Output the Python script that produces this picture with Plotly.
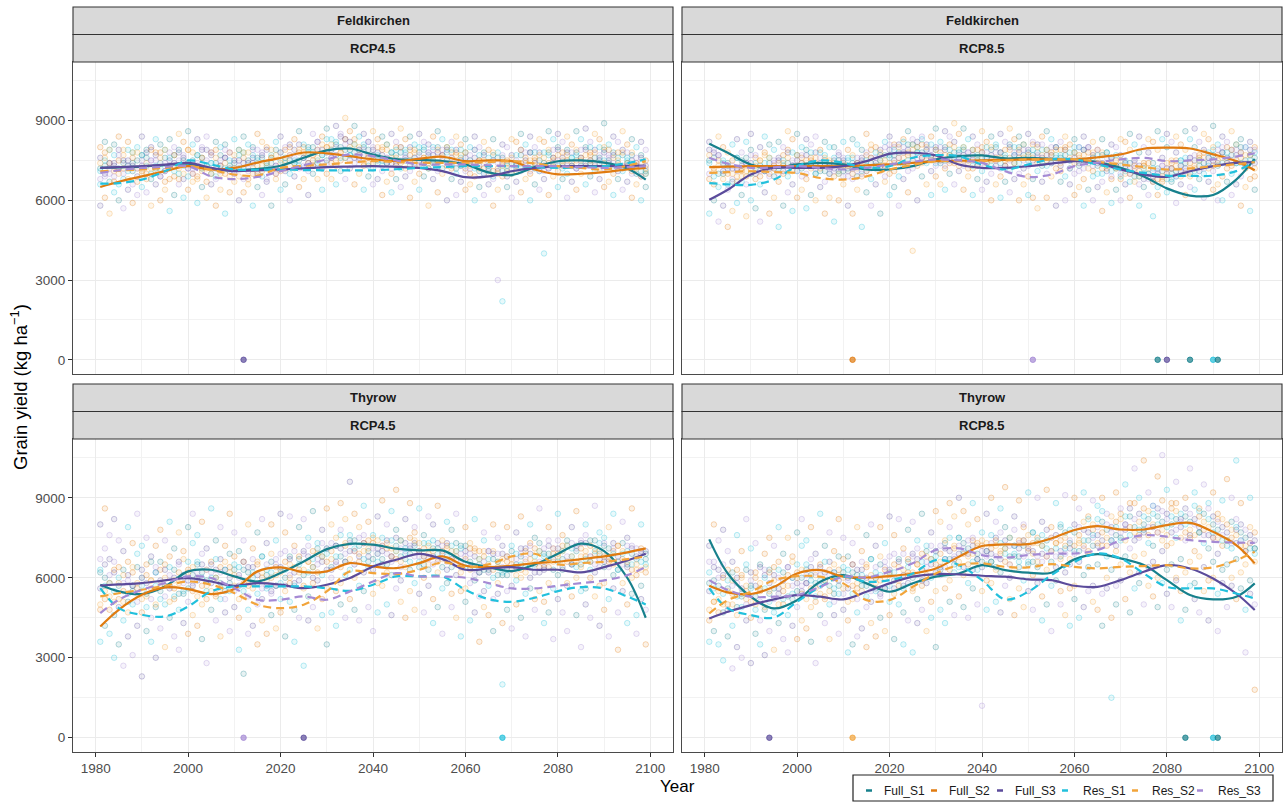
import plotly.graph_objects as go

W, H = 1284, 802

SCENARIOS = ["Full_S1", "Full_S2", "Full_S3", "Res_S1", "Res_S2", "Res_S3"]
COLORS = {"Full_S1": "#17808c", "Full_S2": "#e07b10", "Full_S3": "#5b4b9b",
          "Res_S1": "#22c0dc", "Res_S2": "#f2a43a", "Res_S3": "#a58ad4"}
DASHES = {"Full_S1": "solid", "Full_S2": "solid", "Full_S3": "solid",
          "Res_S1": "8px,5px", "Res_S2": "8px,5px", "Res_S3": "8px,5px"}

SITES = ["Feldkirchen", "Feldkirchen", "Thyrow", "Thyrow"]
RCPS = ["RCP4.5", "RCP8.5", "RCP4.5", "RCP8.5"]

X_TICKS = [1980, 2000, 2020, 2040, 2060, 2080, 2100]
Y_TICKS = [0, 3000, 6000, 9000]

# smoothed trend lines (kg/ha) at key years
KEY_YEARS = [1981, 1985, 1990, 1995, 2000, 2005, 2010, 2015, 2020, 2025, 2030, 2035,
             2040, 2045, 2050, 2055, 2060, 2065, 2070, 2075, 2080, 2085, 2090, 2095, 2099]

FK45_LINES = {
    "Full_S1": [7220, 7240, 7270, 7320, 7380, 7200, 7120, 7180, 7300, 7600, 7880, 7950, 7720, 7550, 7520, 7480, 7350, 7050, 6950, 7250, 7470, 7500, 7420, 7200, 6780],
    "Full_S2": [6500, 6700, 6900, 7100, 7285, 7160, 7220, 7420, 7600, 7800, 7770, 7660, 7540, 7475, 7560, 7640, 7475, 7500, 7475, 7160, 6980, 7000, 7060, 7160, 7220],
    "Full_S3": [7220, 7250, 7285, 7340, 7410, 7220, 7100, 7130, 7160, 7200, 7250, 7270, 7285, 7260, 7220, 7100, 6870, 6900, 7095, 7220, 7285, 7285, 7285, 7300, 7310],
    "Res_S1": [6630, 6650, 6780, 7095, 7500, 7350, 7160, 7150, 7160, 7140, 7130, 7130, 7130, 7170, 7220, 7250, 7285, 7285, 7285, 7250, 7220, 7250, 7285, 7400, 7540],
    "Res_S2": [7095, 7120, 7160, 7220, 7285, 7150, 6970, 6930, 7220, 7300, 7350, 7420, 7475, 7440, 7410, 7410, 7410, 7440, 7475, 7380, 7285, 7220, 7160, 7300, 7475],
    "Res_S3": [7030, 7130, 7220, 7260, 7285, 6900, 6800, 6880, 7095, 7320, 7540, 7730, 7660, 7500, 7350, 7350, 7350, 7320, 7285, 7285, 7285, 7250, 7220, 7250, 7285],
}
FK85_LINES = {
    "Full_S1": [8130, 7790, 7350, 7220, 7350, 7410, 7350, 7160, 7160, 7285, 7540, 7660, 7690, 7575, 7600, 7560, 7510, 7440, 7220, 6900, 6450, 6180, 6200, 6780, 7560],
    "Full_S2": [7250, 7270, 7285, 7285, 7285, 7285, 7285, 7320, 7350, 7410, 7475, 7490, 7500, 7520, 7540, 7540, 7540, 7620, 7730, 7940, 7980, 7950, 7730, 7475, 7130],
    "Full_S3": [6020, 6400, 6970, 7220, 7220, 7220, 7285, 7475, 7750, 7790, 7690, 7350, 7220, 7220, 7285, 7380, 7475, 7410, 7160, 6970, 6880, 7095, 7285, 7410, 7440],
    "Res_S1": [6650, 6600, 6580, 6780, 7285, 7500, 7410, 7220, 7285, 7600, 7700, 7660, 7350, 7160, 7350, 7540, 7540, 7350, 7160, 7030, 6930, 6920, 6930, 7100, 7475],
    "Res_S2": [7030, 7060, 7095, 7060, 7030, 6840, 6780, 6900, 7160, 7330, 7475, 7475, 7475, 7500, 7540, 7540, 7540, 7450, 7350, 7250, 7160, 7200, 7285, 7360, 7440],
    "Res_S3": [7600, 7380, 7220, 7240, 7285, 7220, 7160, 7220, 7350, 7450, 7540, 7500, 7410, 7095, 6880, 6970, 7285, 7420, 7540, 7600, 7475, 7500, 7540, 7650, 7770],
}
TH45_LINES = {
    "Full_S1": [5740, 5490, 5390, 5675, 6240, 6300, 6050, 5860, 6175, 6610, 7075, 7275, 7240, 7090, 7025, 7025, 6600, 6400, 6250, 6500, 6900, 7280, 7000, 6000, 4500],
    "Full_S2": [4175, 4800, 5360, 5640, 5575, 5390, 5575, 6240, 6390, 6210, 6240, 6550, 6425, 6360, 6550, 6800, 6450, 6400, 6450, 6550, 6600, 6700, 6800, 6950, 7100],
    "Full_S3": [5710, 5750, 5800, 5900, 5990, 5860, 5700, 5800, 5740, 5610, 5740, 5990, 6425, 6675, 6900, 6700, 6300, 6350, 6400, 6300, 6300, 6200, 6400, 6650, 6900],
    "Res_S1": [5610, 4860, 4610, 4550, 4925, 5490, 5675, 5675, 5675, 5675, 5610, 5510, 5740, 6050, 6050, 6050, 5550, 5200, 5100, 5250, 5500, 5650, 5600, 5300, 5000],
    "Res_S2": [5300, 5420, 5550, 5700, 5860, 5740, 5425, 4990, 4860, 4990, 5490, 6240, 6175, 6140, 6300, 6575, 6400, 6500, 6800, 6900, 6500, 6550, 6600, 6700, 6800],
    "Res_S3": [4675, 5175, 5550, 5800, 6050, 5990, 5610, 5175, 5175, 5300, 5175, 5490, 5860, 6175, 6050, 6050, 6000, 5800, 5600, 5600, 5700, 5800, 5900, 6100, 6400],
}
TH85_LINES = {
    "Full_S1": [7440, 6160, 5290, 4850, 5160, 5850, 6100, 5790, 5475, 5790, 6040, 6160, 6475, 6290, 6190, 6190, 6690, 6890, 6725, 6475, 5910, 5350, 5190, 5290, 5790],
    "Full_S2": [5700, 5450, 5390, 5660, 6160, 6290, 6040, 6010, 6060, 6160, 6350, 6790, 7190, 7250, 7260, 7475, 7790, 7940, 7810, 7810, 7975, 8060, 7725, 7225, 6540],
    "Full_S3": [4475, 4725, 4975, 5190, 5350, 5290, 5190, 5475, 5790, 6040, 6140, 6125, 6075, 6040, 5940, 5910, 5700, 5660, 5910, 6225, 6475, 6350, 5975, 5410, 4790],
    "Res_S1": [5600, 4850, 4600, 4510, 5100, 5660, 6040, 5850, 5910, 6160, 6660, 6475, 5910, 5190, 5475, 6100, 6600, 6910, 6725, 6160, 5660, 5600, 5600, 5410, 5225],
    "Res_S2": [4660, 5160, 5475, 5910, 6060, 6040, 5790, 5160, 5160, 5660, 6160, 6475, 6540, 6410, 6390, 6510, 6410, 6350, 6410, 6440, 6475, 6350, 6390, 6660, 6975],
    "Res_S3": [5910, 5540, 5290, 5290, 5350, 5660, 6040, 6010, 6225, 6540, 7040, 7100, 6850, 6760, 6850, 6910, 6910, 7040, 7410, 7600, 7540, 7410, 7350, 7320, 7310],
}

# yearly simulated yields, in hundreds of kg/ha (several runs per year), 1981..2099
CLOUD_YEARS = list(range(1981, 2100))
FK45_CLOUD = [
    "72 80 58 66", "76 69 82 61", "74 79 55 70", "81 67 73 63", "70 77 60 84", "75 68 79 57", "73 82 64 71", "78 66 74 59", "69 80 72 62", "77 71 84 65",
    "74 63 79 68", "80 70 58 75", "72 78 66 83", "76 69 81 60", "71 79 64 74", "83 68 75 56", "73 80 62 77", "78 70 85 66", "75 82 68 61", "79 72 86 64",
    "74 81 67 70", "77 69 83 59", "72 80 65 76", "79 73 61 84", "70 78 66 74", "76 68 82 58", "73 80 64 71", "81 70 76 55", "69 78 72 63", "75 83 67 70",
    "72 79 60 77", "78 68 84 63", "74 81 66 72", "80 70 76 58", "71 79 65 85", "77 69 82 62", "74 80 67 73", "79 72 58 76", "73 82 68 70", "78 71 84 64",
    "75 80 66 72", "81 70 77 60", "74 83 69 75", "79 72 86 65", "76 81 68 73", "80 74 62 78", "73 85 70 77", "82 75 68 79", "77 84 72 64", "80 74 87 70",
    "76 83 68 78", "81 73 88 66", "78 85 71 75", "83 76 91 68", "79 86 72 77", "81 74 88 66", "76 84 70 79", "80 73 85 64", "77 82 69 74", "79 72 86 66",
    "75 83 68 77", "80 71 84 62", "74 81 67 76", "78 70 85 63", "76 82 68 74", "80 72 87 65", "75 83 69 78", "79 71 84 61", "73 81 67 76", "78 70 85 64",
    "76 82 69 74", "81 72 58 78", "74 84 68 75", "79 71 86 63", "77 83 70 75", "80 73 60 78", "75 82 68 72", "79 70 84 62", "73 81 67 76", "78 71 83 64",
    "74 80 66 72", "79 69 84 60", "72 80 65 75", "77 70 82 62", "73 79 66 71", "78 68 83 58", "71 78 64 30", "76 69 81 22", "72 80 65 74", "77 70 83 61",
    "74 82 67 72", "79 71 85 63", "75 81 68 73", "78 70 84 60", "73 80 66 75", "78 71 83 64", "74 82 68 40", "79 72 86 62", "76 83 69 74", "80 71 85 65",
    "75 82 68 73", "78 70 84 61", "73 81 67 76", "79 72 86 64", "76 83 70 74", "80 73 87 66", "75 82 69 77", "79 71 85 63", "76 83 68 74", "80 72 89 65",
    "74 81 67 76", "78 70 84 62", "75 82 68 73", "79 71 86 64", "74 81 67 75", "78 70 83 61", "73 80 66 74", "77 69 82 60", "72 79 65 70",
]
FK45_CLOUD_B = [
    "76 71 74 68", "73 78 70 75", "79 72 67 74", "74 77 71 69", "72 75 79 66", "77 70 74 72", "75 79 68 73", "71 76 73 78", "78 72 75 67", "73 77 70 75",
    "76 70 78 73", "72 75 68 79", "77 73 71 75", "74 78 69 72", "79 71 76 67", "73 76 72 78", "77 69 74 71", "72 75 79 68", "76 73 70 77", "74 79 72 69",
    "78 72 75 70", "73 77 68 74", "76 71 79 72", "72 75 73 67", "77 74 70 78", "74 79 72 69", "70 75 77 73", "76 72 74 79", "73 78 71 75", "77 70 74 72",
    "75 79 69 73", "72 76 74 78", "78 71 75 68", "74 77 72 79", "76 73 70 75", "73 78 76 71", "79 72 74 68", "74 76 71 77", "77 73 79 70", "72 75 74 78",
    "76 79 71 74", "73 77 75 80", "79 74 72 76", "75 78 81 73", "78 72 76 80", "74 79 77 71", "80 75 73 78", "76 82 74 79", "79 77 81 73", "75 80 78 83",
    "81 76 79 74", "77 82 75 80", "80 78 84 76", "76 81 79 83", "82 77 80 75", "78 83 76 81", "80 75 79 77", "77 81 74 79", "79 76 82 73", "76 80 77 74",
    "78 74 80 76", "75 79 77 73", "79 76 74 81", "74 78 76 72", "77 80 73 79", "80 75 78 74", "76 79 72 77", "73 77 80 75", "78 74 76 79", "75 80 73 77",
    "79 76 74 80", "74 78 77 72", "77 80 75 79", "80 74 78 73", "76 79 72 77", "79 75 80 74", "73 78 76 79", "77 74 72 78", "75 79 77 73", "78 72 76 74",
    "73 77 75 70", "76 72 74 79", "71 75 73 77", "75 70 78 72", "72 76 70 74", "77 71 75 69", "70 74 76 72", "74 71 73 77", "71 75 69 73", "76 72 74 70",
    "73 77 71 75", "77 74 79 72", "74 78 72 76", "78 73 75 71", "72 76 74 78", "77 71 75 73", "73 78 76 71", "78 74 72 77", "75 79 73 76", "79 73 77 75",
    "74 78 76 72", "77 73 79 75", "73 76 74 78", "78 75 72 77", "75 79 73 76", "79 74 77 73", "74 78 75 80", "78 73 76 74", "75 80 72 77", "79 74 78 75",
    "73 77 75 79", "77 72 76 74", "74 78 71 76", "78 73 77 72", "73 76 74 78", "77 71 75 73", "72 76 70 74", "76 71 74 69", "71 75 73 70",
]
FK85_CLOUD = [
    "75 68 82 55", "71 79 60 66", "77 65 84 52", "70 80 58 74", "78 64 73 50", "72 81 56 68", "76 67 83 59", "69 78 62 72", "74 82 54 66", "79 70 85 60",
    "73 77 57 68", "80 66 75 52", "71 78 63 84", "76 69 81 55", "72 79 61 74", "82 67 75 50", "74 80 58 70", "78 69 86 63", "73 83 66 56", "77 71 85 61",
    "74 80 64 69", "79 68 83 57", "72 81 62 75", "78 70 60 84", "71 79 65 73", "76 67 82 55", "73 80 61 70", "80 69 75 52", "70 78 71 60", "75 82 66 69",
    "72 79 58 76", "77 68 83 55", "74 81 64 71", "79 69 76 50", "71 78 63 85", "76 68 81 58", "73 80 66 72", "78 71 55 75", "72 82 67 69", "77 70 84 62",
    "74 80 65 71", "81 69 76 58", "73 83 68 74", "78 71 86 63", "75 81 41 72", "80 73 60 78", "74 84 69 76", "81 74 66 79", "76 84 71 62", "79 73 87 69",
    "75 82 66 77", "80 72 86 64", "77 84 70 74", "82 75 89 66", "78 85 71 76", "80 73 87 64", "75 83 69 78", "79 72 84 62", "76 81 68 73", "78 71 86 64",
    "74 82 67 76", "80 70 84 60", "73 81 66 75", "78 69 85 61", "75 82 67 73", "80 71 87 63", "74 83 68 77", "79 70 84 60", "72 81 66 75", "78 69 85 62",
    "76 82 68 61", "81 71 57 77", "73 84 67 74", "79 70 86 61", "77 83 69 74", "80 72 58 77", "74 82 67 71", "79 69 84 60", "72 81 66 75", "78 70 83 62",
    "74 80 65 71", "79 68 84 58", "72 80 64 75", "77 69 82 60", "73 79 65 70", "78 67 83 56", "71 78 63 74", "76 68 81 59", "72 80 64 73", "77 69 83 60",
    "74 82 66 71", "79 70 85 61", "75 81 67 72", "78 69 84 58", "73 80 65 74", "78 70 83 62", "74 82 67 54", "79 71 86 62", "76 83 68 73", "80 70 85 63",
    "75 82 67 72", "78 69 84 59", "73 81 66 75", "79 71 86 62", "76 83 69 65", "80 72 87 64", "75 82 68 76", "79 70 85 61", "76 83 67 73", "80 71 88 64",
    "74 81 66 60", "78 69 84 60", "75 82 67 72", "79 70 86 62", "74 81 66 74", "78 69 83 58", "73 80 65 73", "77 68 82 56", "72 79 64 69",
]
FK85_CLOUD_B = [
    "79 74 77 70", "76 72 78 69", "73 77 70 75", "71 75 68 73", "74 70 72 66", "70 73 67 75", "72 76 69 71", "75 71 73 67", "71 74 76 69", "74 70 72 77",
    "72 76 70 74", "75 71 73 69", "71 74 77 72", "74 70 72 76", "72 75 69 73", "76 72 74 70", "73 77 71 75", "76 72 74 79", "73 78 71 75", "77 73 75 71",
    "74 77 72 76", "77 73 75 70", "73 76 74 78", "76 72 70 74", "74 78 72 76", "71 75 73 77", "75 72 70 74", "72 76 74 71", "75 73 77 70", "73 76 71 74",
    "71 75 73 69", "74 70 72 76", "72 76 69 74", "75 71 73 70", "73 77 71 75", "76 72 74 79", "74 78 72 76", "77 73 79 75", "75 80 77 73", "79 76 74 81",
    "77 81 75 79", "80 76 78 74", "78 82 76 80", "81 77 79 75", "79 83 77 81", "82 78 80 76", "78 81 76 83", "80 77 79 75", "77 81 75 79", "79 76 80 74",
    "76 80 74 78", "79 75 77 73", "77 81 75 79", "80 76 78 74", "76 79 73 77", "79 75 77 80", "74 78 76 72", "77 73 79 75", "75 79 73 77", "78 74 76 80",
    "76 80 74 78", "79 75 77 73", "75 78 80 76", "78 74 76 72", "76 79 73 77", "79 75 81 76", "77 80 74 78", "80 76 78 74", "76 79 77 81", "79 75 77 73",
    "77 81 75 79", "80 76 78 74", "76 79 77 81", "79 75 77 73", "77 80 74 78", "80 76 79 75", "76 79 73 77", "79 75 77 80", "75 78 76 72", "78 74 76 80",
    "76 80 73 77", "79 75 77 72", "75 78 80 74", "78 73 76 71", "74 77 75 79", "77 72 74 70", "73 76 78 72", "76 71 74 69", "72 75 73 77", "75 70 73 68",
    "72 75 70 74", "74 70 72 67", "71 74 69 73", "73 69 71 66", "70 73 68 72", "72 68 70 74", "69 72 67 71", "72 68 70 65", "69 73 71 67", "72 68 74 70",
    "70 74 72 68", "73 69 71 75", "71 75 69 73", "74 70 72 76", "72 76 70 74", "75 71 73 77", "73 77 71 75", "76 72 74 78", "74 78 72 76", "77 73 75 79",
    "75 79 73 77", "78 74 76 80", "76 80 74 78", "79 75 77 73", "77 81 75 79", "80 76 78 74", "77 80 75 72", "79 75 77 73", "76 80 74 78",
]
TH45_CLOUD = [
    "62 48 80 36", "55 71 42 86", "67 39 58 76", "46 63 82 30", "58 74 35 52", "70 44 61 27", "51 66 38 79", "64 31 57 73", "42 69 54 84", "60 47 23 72",
    "53 75 40 65", "68 36 59 45", "49 72 30 62", "57 41 66 78", "63 50 34 74", "45 68 56 81", "59 38 71 52", "66 48 77 33", "54 70 43 61", "62 51 79 39",
    "57 73 46 84", "65 42 60 76", "50 69 37 81", "71 55 63 28", "48 66 58 86", "60 44 74 53", "67 52 38 79", "55 72 47 63", "62 40 69 84", "49 65 57 77",
    "70 45 61 33", "53 74 24 66", "64 48 80 39", "58 71 42 62", "66 50 77 35", "52 68 44 82", "61 39 73 56", "69 54 46 80", "57 74 41 65", "63 47 84 52",
    "55 70 38 77", "67 51 60 83", "48 72 58 36", "62 45 79 68", "70 27 56 82", "53 66 44 75", "64 49 85 58", "59 73 41 67", "68 52 78 46", "56 71 35 86",
    "63 47 80 60", "72 55 66 42", "58 78 50 88", "66 61 82 45", "74 52 96 63", "60 70 48 84", "68 57 79 44", "55 73 62 87", "71 49 66 81", "63 76 54 40",
    "69 58 83 47", "57 72 65 89", "74 50 62 80", "61 68 46 85", "70 56 78 93", "59 74 51 64", "67 45 82 71", "55 72 63 88", "73 58 48 79", "64 70 54 86",
    "68 47 76 60", "57 73 65 83", "71 52 80 43", "62 67 49 87", "69 56 74 39", "58 72 63 81", "66 49 78 54", "61 70 45 84", "72 55 64 38", "56 68 51 79",
    "64 44 73 58", "59 71 47 82", "67 53 62 36", "55 74 49 77", "63 46 70 57", "70 52 40 80", "54 66 58 75", "61 43 72 20", "68 55 48 79", "57 72 63 41",
    "65 50 77 59", "60 69 45 83", "71 54 66 38", "56 73 60 80", "66 48 75 52", "62 70 55 86", "69 51 64 43", "58 74 47 79", "67 56 71 37", "61 69 52 84",
    "70 47 63 76", "57 72 58 40", "65 53 79 68", "60 71 46 85", "73 55 64 34", "56 68 50 80", "66 45 74 60", "62 70 53 87", "69 57 42 77", "58 73 64 48",
    "67 52 79 38", "61 70 56 84", "72 47 63 33", "55 69 58 81", "65 50 75 43", "60 72 54 86", "68 46 63 39", "57 71 52 80", "64 48 69 35",
]
TH45_CLOUD_B = [
    "56 63 50 67", "60 52 65 57", "53 61 58 48", "62 55 51 66", "57 64 49 60", "51 58 63 55", "61 54 47 59", "55 62 57 50", "58 51 64 56", "63 57 52 60",
    "54 61 58 49", "59 52 66 56", "62 57 50 64", "55 63 59 52", "60 53 57 65", "57 64 51 61", "63 56 60 53", "58 65 54 62", "61 55 67 58", "56 63 59 66",
    "64 58 61 55", "59 66 53 62", "62 57 65 60", "57 63 59 52", "65 60 55 62", "60 54 63 67", "56 62 58 64", "63 57 66 52", "58 64 60 55", "61 55 63 68",
    "57 64 52 60", "63 58 66 55", "59 53 62 57", "64 60 56 67", "58 65 61 54", "62 56 68 60", "57 63 59 65", "66 60 55 62", "61 67 57 64", "64 58 62 69",
    "60 66 57 63", "65 61 68 58", "62 57 64 70", "67 63 59 65", "63 69 61 57", "68 62 66 72", "64 70 60 67", "69 65 71 62", "66 61 68 73", "71 66 63 69",
    "67 73 64 70", "72 68 75 65", "68 64 71 76", "73 69 66 72", "70 76 67 73", "74 70 65 71", "69 75 72 66", "73 67 70 76", "70 74 68 64", "75 71 67 73",
    "71 66 74 69", "67 72 70 75", "73 69 65 71", "68 74 71 66", "72 67 75 70", "66 71 68 74", "73 69 64 70", "69 75 71 66", "74 68 72 77", "70 66 73 68",
    "65 71 68 73", "72 67 63 69", "68 74 70 65", "71 66 73 69", "67 72 64 70", "73 68 71 66", "64 70 67 72", "70 65 73 68", "66 71 62 69", "72 67 70 64",
    "63 69 66 71", "68 64 70 61", "65 70 62 67", "70 66 63 68", "62 67 65 70", "67 63 69 60", "64 69 61 66", "69 62 67 64", "61 66 68 63", "67 63 70 65",
    "64 69 61 67", "68 63 71 65", "62 67 64 70", "69 64 67 72", "65 71 62 68", "70 66 73 64", "63 68 65 71", "69 64 72 67", "66 71 63 69", "71 66 68 74",
    "67 72 64 70", "72 68 74 66", "65 71 68 73", "70 66 72 64", "68 74 65 71", "73 67 70 76", "66 72 68 63", "71 65 74 69", "67 73 70 64", "72 68 66 75",
    "68 64 71 66", "73 69 65 71", "66 72 68 63", "70 65 73 67", "64 70 66 72", "69 63 71 65", "65 71 67 61", "70 66 63 69", "67 62 70 65",
]
TH85_CLOUD = [
    "58 44 72 36", "51 66 40 80", "63 35 55 74", "47 60 78 29", "55 70 38 50", "66 42 59 26", "49 63 34 76", "60 30 53 70", "44 65 52 82", "57 45 28 71",
    "50 73 39 62", "64 35 56 44", "48 69 31 60", "55 40 63 75", "61 47 33 72", "43 66 54 79", "57 37 69 50", "64 46 75 32", "52 68 42 60", "60 49 77 37",
    "55 72 44 82", "63 41 58 74", "49 67 36 79", "69 53 61 28", "46 65 57 84", "59 43 72 52", "66 50 37 77", "54 70 46 62", "61 39 68 82", "48 64 56 75",
    "68 44 60 32", "52 73 35 65", "63 47 79 38", "57 70 41 61", "65 49 76 34", "51 67 43 80", "60 38 72 55", "68 53 45 79", "56 73 40 64", "62 46 83 51",
    "54 69 37 76", "66 50 59 82", "47 71 57 35", "61 44 78 67", "69 32 55 81", "52 65 43 74", "63 48 84 57", "58 72 40 66", "67 51 77 45", "55 70 34 85",
    "64 48 81 61", "73 56 67 43", "59 79 51 88", "67 62 83 46", "75 53 90 64", "61 71 49 85", "69 58 80 45", "56 74 63 88", "72 50 67 82", "64 77 55 12",
    "70 59 84 48", "58 73 66 90", "75 51 63 81", "62 69 47 86", "71 57 79 94", "60 75 52 65", "68 46 83 72", "56 73 64 89", "74 59 49 80", "65 71 55 92",
    "69 48 77 61", "58 74 66 90", "72 53 81 44", "63 68 50 93", "70 57 75 40", "59 73 64 88", "67 50 79 55", "62 71 46 91", "73 56 65 42", "57 69 52 90",
    "66 45 74 86", "61 72 49 92", "69 55 64 83", "57 76 51 89", "65 48 72 87", "72 54 42 90", "56 68 60 84", "63 45 74 15", "70 57 50 92", "59 74 65 86",
    "68 52 80 95", "62 71 47 88", "74 56 68 101", "58 76 62 90", "69 50 78 104", "64 73 57 92", "72 53 66 87", "60 77 49 98", "70 58 74 106", "63 72 54 93",
    "73 49 65 88", "59 75 60 96", "67 55 82 44", "62 74 48 90", "76 57 66 101", "58 70 52 92", "68 47 77 86", "64 73 55 95", "71 59 44 88", "60 75 66 92",
    "69 54 82 40", "63 72 58 89", "74 49 65 97", "57 71 60 90", "67 52 78 104", "62 74 56 88", "70 48 65 32", "59 73 54 90", "66 50 71 18",
]
TH85_CLOUD_B = [
    "55 62 48 66", "59 51 64 56", "52 60 57 47", "61 54 50 65", "56 63 48 59", "50 57 62 54", "60 53 46 58", "54 61 56 49", "57 50 63 55", "62 56 51 59",
    "53 60 57 48", "58 51 65 55", "61 56 49 63", "54 62 58 51", "59 52 56 64", "56 63 50 60", "62 55 59 52", "57 64 53 61", "60 54 66 57", "55 62 58 65",
    "63 57 60 54", "58 65 52 61", "61 56 64 59", "56 62 58 51", "64 59 54 61", "59 53 62 66", "55 61 57 63", "62 56 65 51", "57 63 59 54", "60 54 62 67",
    "56 63 51 59", "62 57 65 54", "58 52 61 56", "63 59 55 66", "57 64 60 53", "61 55 67 59", "56 62 58 64", "65 59 54 61", "60 66 56 63", "63 57 61 68",
    "59 65 56 62", "64 60 67 57", "61 56 63 69", "66 62 58 64", "62 68 60 56", "67 61 65 71", "63 69 59 66", "68 64 70 61", "65 60 67 72", "70 65 62 68",
    "66 72 63 69", "71 67 74 64", "67 63 70 75", "72 68 65 71", "69 75 66 72", "73 69 64 70", "68 74 71 65", "72 66 69 75", "69 73 67 63", "74 70 66 72",
    "70 65 73 68", "66 71 69 76", "72 68 64 74", "67 73 70 77", "71 66 74 69", "65 72 68 75", "72 69 63 78", "68 74 71 66", "74 68 72 79", "70 66 76 72",
    "66 73 70 77", "73 68 64 75", "69 76 72 66", "74 68 78 71", "70 75 66 79", "76 71 73 68", "68 74 70 80", "75 69 77 72", "71 78 67 74", "77 72 80 70",
    "73 79 70 76", "78 74 81 71", "74 70 77 82", "80 75 72 78", "76 82 73 79", "81 77 74 85", "75 80 78 72", "79 74 83 77", "76 81 72 79", "82 77 75 84",
    "78 83 74 80", "83 79 86 76", "77 82 79 88", "84 78 81 75", "80 86 77 83", "85 79 82 76", "79 84 80 87", "83 77 86 80", "78 85 81 89", "84 79 76 82",
    "80 86 77 83", "85 78 82 88", "79 84 75 81", "83 77 86 80", "78 84 81 75", "82 87 76 80", "77 83 79 85", "81 76 84 78", "76 82 79 86", "80 75 83 77",
    "75 81 78 84", "79 74 82 76", "74 80 77 72", "78 73 81 75", "73 79 76 82", "77 72 80 74", "72 78 75 70", "76 71 79 73", "71 77 74 69",
]

# crop failures (yield = 0)
FK45_ZERO_YEARS, FK45_ZERO_SCEN = [2012], ["Full_S3"]
FK85_ZERO_YEARS = [2012, 2051, 2078, 2080, 2085, 2090, 2091]
FK85_ZERO_SCEN = ["Full_S2", "Res_S3", "Full_S1", "Full_S3", "Full_S1", "Res_S1", "Full_S1"]
TH45_ZERO_YEARS, TH45_ZERO_SCEN = [2012, 2025, 2068], ["Res_S3", "Full_S3", "Res_S1"]
TH85_ZERO_YEARS = [1994, 2012, 2084, 2090, 2091]
TH85_ZERO_SCEN = ["Full_S3", "Res_S2", "Full_S1", "Res_S1", "Full_S1"]

LINES = [FK45_LINES, FK85_LINES, TH45_LINES, TH85_LINES]
CLOUDS = [(FK45_CLOUD, FK45_CLOUD_B), (FK85_CLOUD, FK85_CLOUD_B),
          (TH45_CLOUD, TH45_CLOUD_B), (TH85_CLOUD, TH85_CLOUD_B)]
ZEROS = [(FK45_ZERO_YEARS, FK45_ZERO_SCEN), (FK85_ZERO_YEARS, FK85_ZERO_SCEN),
         (TH45_ZERO_YEARS, TH45_ZERO_SCEN), (TH85_ZERO_YEARS, TH85_ZERO_SCEN)]


def rgba(hx, a):
    hx = hx.lstrip("#")
    r, g, b = int(hx[0:2], 16), int(hx[2:4], 16), int(hx[4:6], 16)
    return f"rgba({r},{g},{b},{a})"


def px_x(p):
    return p / W


def px_y(p):
    return 1 - p / H


# layout geometry (pixels)
COLS = [(73, 673), (682, 1282)]
ROWS = [(62, 374), (439, 752)]
STRIPS = [(7, 34.5, 62), (384, 411.5, 439)]
XRANGE = [1975.1, 2104.9]
YRANGE = [-535, 11205]
FONT = "Liberation Sans, Arial, sans-serif"

fig = go.Figure()
for p in range(4):
    ax = "" if p == 0 else str(p + 1)
    xref, yref = "x" + ax, "y" + ax
    groups = {s: ([], []) for s in SCENARIOS}
    for k, cloud in enumerate(CLOUDS[p]):
        for j, (yr, s) in enumerate(zip(CLOUD_YEARS, cloud)):
            for i, v in enumerate(s.split()):
                sc = SCENARIOS[(4 * j + i + 2 * k) % 6]
                groups[sc][0].append(yr)
                groups[sc][1].append(int(v) * 100)
    for sc in SCENARIOS:
        fig.add_trace(go.Scatter(
            x=groups[sc][0], y=groups[sc][1], mode="markers", xaxis=xref, yaxis=yref,
            marker=dict(size=5.5, color=rgba(COLORS[sc], 0.10),
                        line=dict(color=rgba(COLORS[sc], 0.30), width=1)),
            showlegend=False, hoverinfo="skip"))
    zy, zs = ZEROS[p]
    for yr, sc in zip(zy, zs):
        fig.add_trace(go.Scatter(
            x=[yr], y=[0], mode="markers", xaxis=xref, yaxis=yref,
            marker=dict(size=5.5, color=rgba(COLORS[sc], 0.7),
                        line=dict(color=rgba(COLORS[sc], 0.8), width=1)),
            showlegend=False, hoverinfo="skip"))
    for sc in SCENARIOS:
        fig.add_trace(go.Scatter(
            x=KEY_YEARS, y=LINES[p][sc], mode="lines", xaxis=xref, yaxis=yref,
            line=dict(color=COLORS[sc], width=2.2, dash=DASHES[sc], shape="spline", smoothing=1.0),
            name=sc, showlegend=False, hoverinfo="skip"))

grid = dict(showgrid=True, gridcolor="#ebebeb", gridwidth=1.1, zeroline=False,
            showline=True, mirror=True, linecolor="#4a4a4a", linewidth=1.2,
            tickfont=dict(family=FONT, size=13.5, color="#4d4d4d"),
            tickcolor="#333333", tickwidth=1.1, ticklen=4)

layout = dict(width=W, height=H, margin=dict(l=0, r=0, t=0, b=0),
              paper_bgcolor="white", plot_bgcolor="white", showlegend=False)
shapes, annotations = [], []
for p in range(4):
    r, c = divmod(p, 2)
    ax = "" if p == 0 else str(p + 1)
    xd = [px_x(COLS[c][0]), px_x(COLS[c][1])]
    yd = [px_y(ROWS[r][1]), px_y(ROWS[r][0])]
    layout["xaxis" + ax] = dict(grid, domain=xd, anchor="y" + ax, range=XRANGE,
                                tickmode="array", tickvals=X_TICKS,
                                showticklabels=(r == 1), ticks="outside" if r == 1 else "",
                                minor=dict(dtick=10, tick0=1980, showgrid=True,
                                           gridcolor="#f2f2f2", gridwidth=0.6))
    layout["yaxis" + ax] = dict(grid, domain=yd, anchor="x" + ax, range=YRANGE,
                                tickmode="array", tickvals=Y_TICKS,
                                showticklabels=(c == 0), ticks="outside" if c == 0 else "",
                                minor=dict(dtick=1500, tick0=0, showgrid=True,
                                           gridcolor="#f2f2f2", gridwidth=0.6))
    st = STRIPS[r]
    for k, label in enumerate([SITES[p], RCPS[p]]):
        shapes.append(dict(type="rect", xref="paper", yref="paper",
                           x0=xd[0], x1=xd[1], y0=px_y(st[k + 1]), y1=px_y(st[k]),
                           fillcolor="#d9d9d9", line=dict(color="#333333", width=1.1),
                           layer="above"))
        annotations.append(dict(xref="paper", yref="paper", x=(xd[0] + xd[1]) / 2,
                                y=px_y((st[k] + st[k + 1]) / 2), text=f"<b>{label}</b>",
                                showarrow=False, xanchor="center", yanchor="middle",
                                font=dict(family=FONT, size=13, color="#1a1a1a")))

annotations.append(dict(xref="paper", yref="paper", x=px_x(677.5), y=px_y(786), text="Year",
                        showarrow=False, xanchor="center", yanchor="middle",
                        font=dict(family=FONT, size=17, color="black")))
annotations.append(dict(xref="paper", yref="paper", x=px_x(19), y=px_y(387),
                        text="Grain yield (kg ha<sup>−1</sup>)", textangle=-90,
                        showarrow=False, xanchor="center", yanchor="middle",
                        font=dict(family=FONT, size=18.5, color="black")))

shapes.append(dict(type="rect", xref="paper", yref="paper", x0=px_x(853), x1=px_x(1273),
                   y0=px_y(801), y1=px_y(775), line=dict(color="#222222", width=1.2),
                   fillcolor="white"))
LEG_KEY_X = [869, 934, 1000, 1065, 1135, 1200]
LEG_TXT_X = [882, 947, 1013, 1081, 1150, 1216]
for sc, kx, tx in zip(SCENARIOS, LEG_KEY_X, LEG_TXT_X):
    shapes.append(dict(type="line", xref="paper", yref="paper", x0=px_x(kx - 3), x1=px_x(kx + 3),
                       y0=px_y(790.5), y1=px_y(790.5), line=dict(color=COLORS[sc], width=2.5)))
    annotations.append(dict(xref="paper", yref="paper", x=px_x(tx), y=px_y(790.5), text=sc,
                            showarrow=False, xanchor="left", yanchor="middle",
                            font=dict(family=FONT, size=12, color="#1a1a1a")))

layout["shapes"] = shapes
layout["annotations"] = annotations
fig.update_layout(**layout)
fig.write_html("out.html")
